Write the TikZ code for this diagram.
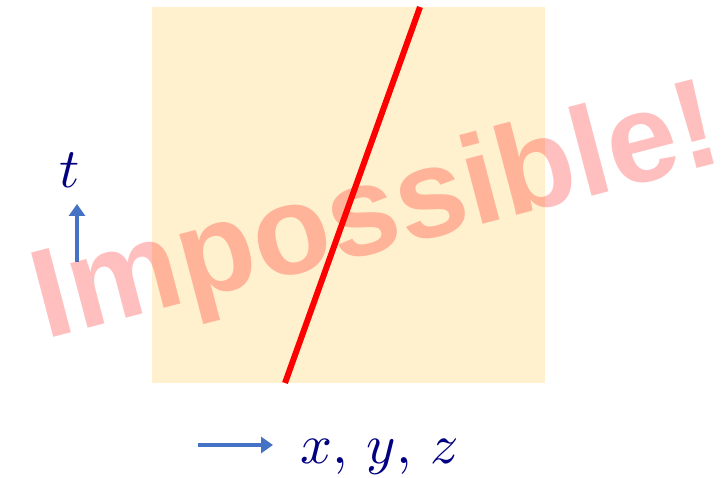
\documentclass[tikz,border=0pt]{standalone}
\usepackage{graphicx}
\usepackage{fontspec}
\usepackage{tikz}
\usetikzlibrary{arrows.meta, positioning}
\newfontfamily\stampfont{Liberation Sans}[BoldFont={Liberation Sans Bold}]
\definecolor{paleGold}   {RGB}{255, 241, 206}
\definecolor{axisBlue}   {RGB}{ 68, 114, 196}
\definecolor{labelNavy}  {RGB}{  0,   0, 128}
\newcommand{\bigvar}[1]{\scalebox{4.2}{$#1$}}

\begin{document}
\begin{tikzpicture}[x=0.75pt, y=0.75pt,
	axis/.style={line width=3pt, color=axisBlue, -{Triangle[length=9pt, width=12pt]}},
	varlabel/.style={text=labelNavy, inner sep=0pt}
]
	\useasboundingbox (0,0) rectangle (721,478);
	% region and world line
	\fill[paleGold] (152,95) rectangle (545,471);
	\coordinate (lo) at (285,95);
	\coordinate (hi) at (420,471);
	\draw[red, line width=4.5pt] (lo) -- (hi);
	% axes
	\coordinate (t0) at (77,216);
	\coordinate (t1) at (77,274);
	\draw[axis] (t0) -- (t1);
	\node[varlabel] (tlab) at (70,308) {\bigvar{t}};
	\coordinate (s0) at (198,33);
	\coordinate (s1) at (273,33);
	\draw[axis] (s0) -- (s1);
	\node[varlabel, anchor=base] (slab) at (380,15) {\bigvar{x,\, y,\, z}};
	% stamp
	\node[anchor=base, inner sep=0pt, rotate=14.7, text=red, text opacity=0.25,
		font=\stampfont\bfseries\fontsize{95}{95}\selectfont] (stamp) at (386,228) {Impossible!};
\end{tikzpicture}
\end{document}
